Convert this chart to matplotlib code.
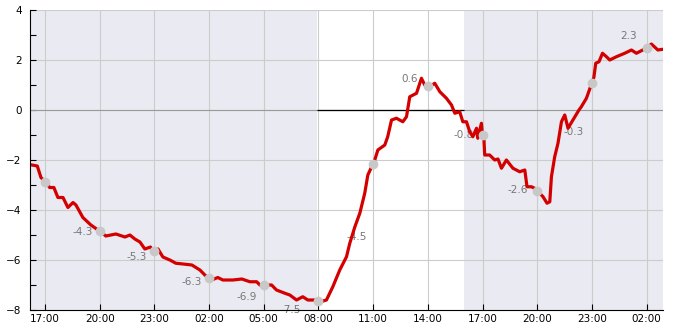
import pandas as pd
import matplotlib
matplotlib.use("Agg")
import matplotlib.pyplot as plt
import matplotlib.dates as mdates
import numpy as np

# Hours counted from midnight of the first day, with the value at each time
hours = [16.29, 16.58, 16.78, 17.05, 17.26, 17.49, 17.71, 17.99, 18.26, 18.54,
         18.70, 19.08, 19.52, 20.05, 20.34, 20.89, 21.39, 21.66, 21.93, 22.21,
         22.48, 22.79, 22.92, 23.20, 23.47, 23.85, 24.18, 24.57, 25.06, 25.50,
         25.77, 26.14, 26.48, 26.76, 27.31, 27.80, 28.24, 28.61, 28.79, 29.06,
         29.43, 29.70, 30.16, 30.43, 30.80, 31.14, 31.42, 31.90, 32.08, 32.44,
         32.79, 33.17, 33.54, 33.72, 34.00, 34.27, 34.54, 34.71, 35.09, 35.26,
         35.64, 35.80, 36.01, 36.28, 36.63, 36.83, 37.01, 37.38, 37.65, 37.83,
         38.11, 38.38, 38.66, 39.02, 39.30, 39.48, 39.75, 39.92, 40.12, 40.30,
         40.47, 40.67, 40.74, 40.94, 41.00, 41.08, 41.12, 41.39, 41.67, 41.85,
         42.04, 42.31, 42.67, 43.04, 43.32, 43.44, 43.68, 43.86, 44.10, 44.32,
         44.54, 44.69, 44.78, 44.96, 45.14, 45.33, 45.51, 45.69, 45.96, 46.29,
         46.42, 46.70, 47.11, 47.21, 47.39, 47.58, 47.80, 47.98, 48.34, 48.80,
         49.17, 49.44, 49.71, 50.08, 50.26, 50.62, 50.90]
values = [-2.20, -2.24, -2.70, -2.90, -3.10, -3.10, -3.50, -3.50, -3.90, -3.70,
          -3.80, -4.30, -4.60, -4.87, -5.04, -4.96, -5.08, -5.00, -5.16, -5.28,
          -5.56, -5.48, -5.68, -5.56, -5.88, -6.00, -6.13, -6.16, -6.20, -6.40,
          -6.60, -6.80, -6.70, -6.80, -6.80, -6.76, -6.87, -6.87, -7.00, -7.00,
          -7.00, -7.20, -7.33, -7.40, -7.60, -7.47, -7.60, -7.60, -7.68, -7.60,
          -7.07, -6.40, -5.87, -5.33, -4.67, -4.13, -3.33, -2.60, -2.00, -1.60,
          -1.40, -1.07, -0.40, -0.33, -0.47, -0.27, 0.53, 0.67, 1.27, 1.00,
          0.93, 1.07, 0.73, 0.47, 0.20, -0.13, -0.07, -0.47, -0.47, -0.87,
          -1.07, -0.73, -1.13, -0.53, -1.00, -1.20, -1.80, -1.80, -2.00, -1.96,
          -2.33, -2.00, -2.33, -2.47, -2.40, -3.07, -3.07, -3.13, -3.30, -3.47,
          -3.73, -3.67, -2.67, -1.87, -1.33, -0.47, -0.20, -0.73, -0.40, 0.00,
          0.13, 0.47, 1.31, 1.87, 1.93, 2.27, 2.13, 2.00, 2.13, 2.27,
          2.40, 2.27, 2.37, 2.51, 2.64, 2.40, 2.43]

# gray dots every 3 hours
marker_hours = [17, 20, 23, 26, 29, 32, 35, 38, 41, 44, 47, 50]

# value labels and where they sit (right edge, centre)
label_text = ["-4.3", "-5.3", "-6.3", "-6.9", "-7.5", "-4.5", "0.6", "-0.8", "-2.6", "-0.3", "2.3"]
label_hours = [19.63, 22.59, 25.62, 28.61, 31.05, 34.64, 37.47, 40.53, 43.51, 46.57, 49.47]
label_values = [-4.88, -5.87, -6.89, -7.49, -8.00, -5.07, 1.24, -1.00, -3.20, -0.87, 2.96]

# night shading
shade_spans = [(16.18, 31.91), (39.97, 50.90)]

base = pd.Timestamp("2024-01-01")
def to_time(h):
    return base + pd.to_timedelta(np.asarray(h, dtype=float), unit="h")

t = to_time(hours)
t_mark = to_time(marker_hours)
v_mark = np.interp(marker_hours, hours, values)

fig = plt.figure(figsize=(6.85, 3.30), dpi=100)
ax = fig.add_axes([30 / 685, 20 / 330, 633 / 685, 300 / 330])

x0, x1 = to_time([16.18, 50.90])
ax.set_xlim(x0, x1)
ax.set_ylim(-8, 4)

for a, b in shade_spans:
    ta, tb = to_time([a, b])
    ax.axvspan(ta, tb, facecolor="#eaeaf2", edgecolor="none", zorder=1)

ax.set_axisbelow("line")
ax.grid(True, which="major", color="#cccccc", linewidth=0.8)

# zero line: gray over the shading, black in the daytime gap
ax.axhline(0, color="#999999", linewidth=0.8, zorder=1.6)
za, zb = to_time([shade_spans[0][1], shade_spans[1][0]])
ax.hlines(0, za, zb, color="black", linewidth=0.9, zorder=1.7)

for txt, h, v in zip(label_text, label_hours, label_values):
    ax.text(to_time([h])[0], v, txt, ha="right", va="center", fontsize=7.5,
            color="#777777", zorder=1.8)

ax.plot(t, values, color="#d40000", linewidth=2.3, zorder=2)
ax.plot(t_mark, v_mark, "o", color="#c8c8c8", markersize=6, zorder=3)

ax.xaxis.set_major_locator(mdates.HourLocator(byhour=range(2, 24, 3)))
ax.xaxis.set_major_formatter(mdates.DateFormatter("%H:%M"))
ax.set_yticks([-8, -6, -4, -2, 0, 2, 4])
ax.set_yticks([-7, -5, -3, -1, 1, 3], minor=True)

ax.tick_params(axis="both", which="both", direction="in", length=4, width=0.8,
               labelsize=7.5, color="black")
ax.tick_params(axis="x", pad=3)
ax.tick_params(axis="y", pad=6)

for side in ["top", "right"]:
    ax.spines[side].set_visible(False)
for side in ["left", "bottom"]:
    ax.spines[side].set_color("black")
    ax.spines[side].set_linewidth(0.8)

fig.canvas.draw()
for lbl in ax.get_xticklabels():
    lbl.set_bbox(dict(facecolor="white", edgecolor="none", pad=0.6))

fig.savefig("out.png", dpi=100)
